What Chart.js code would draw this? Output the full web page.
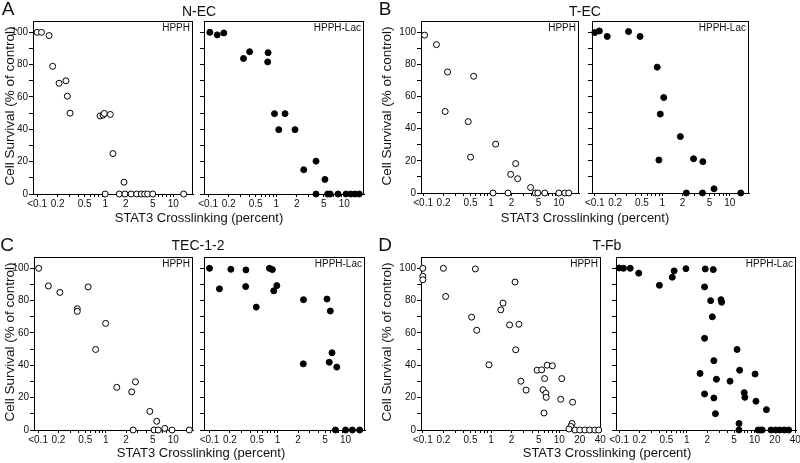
<!DOCTYPE html>
<html>
<head>
<meta charset="utf-8">
<script src="https://cdn.jsdelivr.net/npm/chart.js@4"></script>
<style>
  body { margin: 0; background: #fff; width: 800px; height: 463px; position: relative; overflow: hidden;
         font-family: "Liberation Sans", Arial, sans-serif; color: #111; }
  canvas { position: absolute; }
  .t { position: absolute; white-space: nowrap; transform: translate(-50%, -50%); }
  .letter { font-size: 19px; }
  .title { font-size: 14px; }
  .axis { font-size: 13px; }
  .ylab { font-size: 13.5px; transform: translate(-50%, -50%) rotate(-90deg); }
  .tag { position: absolute; white-space: nowrap; font-size: 10px; transform: translate(-100%, -50%); }
</style>
</head>
<body>
<script>
// --- data (x = STAT3 crosslinking %, y = cell survival %) ---
const necHpphX = [0.1, 0.116, 0.15, 0.169, 0.21, 0.265, 0.278, 0.305, 0.84, 0.93, 0.97, 1.19, 1.3, 1.89,
                  1.0, 1.61, 1.95, 2.4, 2.9, 3.4, 3.8, 4.2, 5.0, 14.2];
const necHpphY = [100, 100, 98, 79, 68.5, 70, 60.5, 50, 48.3, 48.8, 49.8, 49.2, 25, 7.3,
                  0, 0, 0, 0, 0, 0, 0, 0, 0, 0];
const necLacX = [0.106, 0.136, 0.17, 0.331, 0.407, 0.76, 0.75, 0.944, 1.09, 1.35, 1.89, 2.54, 3.85, 5.2,
                 3.85, 5.7, 6.2, 8.1, 10.6, 12.5, 14.5, 16.6];
const necLacY = [100, 98.4, 99.6, 83.8, 88, 87.4, 81.7, 49.7, 39.8, 49.7, 39.8, 15, 20.3, 9,
                 0, 0, 0, 0, 0, 0, 0, 0];

const tecHpphX = [0.105, 0.157, 0.229, 0.555, 0.211, 0.462, 0.5, 1.17, 2.31, 1.95, 2.47, 3.83,
                  1.07, 1.78, 4.5, 4.9, 6.2, 10, 12.2, 14];
const tecHpphY = [98.2, 92.3, 75.3, 72.6, 50.7, 44.4, 22.3, 30.4, 18.3, 11.6, 8.9, 3.4,
                  0, 0, 0, 0, 0, 0, 0, 0];
const tecLacX = [0.1, 0.117, 0.153, 0.316, 0.468, 0.84, 1.05, 0.933, 0.89, 1.85, 2.9, 3.98, 5.83,
                 2.27, 3.93, 14.5];
const tecLacY = [99.8, 100.8, 97.4, 100.4, 97.4, 78.3, 59.4, 49.1, 20.5, 35.1, 21.3, 19.5, 2.6,
                 0, 0, 0];

const tec12HpphX = [0.102, 0.142, 0.21, 0.38, 0.38, 0.55, 1.0, 0.71, 1.46, 2.43, 2.76, 4.5, 5.7, 7.5,
                    2.55, 5.2, 6.0, 9.6, 17.3];
const tec12HpphY = [100, 89.1, 85.1, 75, 73.4, 88.5, 65.9, 49.8, 26.4, 23.6, 29.8, 11.5, 5.4, 1,
                    0, 0, 0, 0, 0];
const tec12LacX = [0.1, 0.14, 0.206, 0.343, 0.34, 0.486, 0.76, 0.84, 0.88, 0.977, 2.41, 2.39, 5.33, 5.96,
                   6.32, 5.76, 7.42, 7.1, 10, 12.6, 16.1];
const tec12LacY = [100, 87.3, 99.4, 99, 88.7, 76, 100, 99.2, 86.1, 89.3, 80.6, 40.9, 81, 73.6,
                   47.8, 41.9, 38.9, 0, 0, 0, 0];

const tfbHpphX = [0.1, 0.1, 0.1, 0.2, 0.216, 0.589, 0.519, 0.617, 0.933, 2.25, 1.5, 1.39, 1.87, 2.57,
                  2.3, 2.74, 3.27, 4.74, 5.53, 6.66, 7.94, 6.1, 10.9, 5.78, 6.38, 6.45, 5.98, 10.5,
                  15.7, 15.4, 14.8, 13.9, 17, 20, 23.8, 27.9, 33.3, 38];
const tfbHpphY = [100, 95.1, 92.9, 100, 82.6, 99.6, 69.8, 61.7, 40.3, 91.5, 78.5, 74.3, 65, 65.4,
                  49.6, 30.2, 24.7, 37, 37.2, 40.1, 39.7, 31.8, 31.8, 24.9, 22.7, 20.2, 10.5, 19,
                  17.2, 4, 2.2, 0.6, 0, 0, 0, 0, 0, 0];
const tfbLacX = [0.1, 0.116, 0.146, 0.195, 0.394, 0.61, 0.65, 0.97, 1.87, 2.46, 1.83, 2.25, 3.2, 3.27,
                 2.38, 1.83, 5.53, 2.51, 6.03, 1.57, 2.74, 4.35, 10.2, 1.83, 2.51, 7.05, 7.2, 10.5,
                 15, 2.65, 5.9, 5.9, 11.3, 12.2, 13, 17.5, 20.5, 23.5, 27.5, 32];
const tfbLacY = [100.2, 100, 100, 97, 89.5, 94.5, 98.4, 99.8, 99.6, 99.2, 88.5, 80, 80.6, 79,
                 70, 56.7, 49.8, 42.9, 37, 35, 31.4, 30.2, 34.6, 22.3, 19.8, 23.1, 20.2, 17.8,
                 12.6, 10.1, 4, 0, 0, 0, 0, 0, 0, 0, 0, 0];

// --- axis ticks ---
const xTicks = [0.1, 0.2, 0.3, 0.4, 0.5, 0.6, 0.7, 0.8, 0.9, 1, 2, 3, 4, 5, 6, 7, 8, 9, 10, 20, 30, 40];
const xLabelVals = [0.1, 0.2, 0.5, 1, 2, 5, 10, 20, 40];
const xLabelText = ['<0.1', '0.2', '0.5', '1', '2', '5', '10', '20', '40'];
const yTicks = [0, 10, 20, 30, 40, 50, 60, 70, 80, 90, 100];
const yLabelVals = [0, 20, 40, 60, 80, 100];

const FONT = '"Liberation Sans", Arial, sans-serif';
const padT = 4, padR = 10, padB = 24;

// box = [left, top, right, bottom(y=0)] of each frame
const panels = [
  { x: necHpphX, y: necHpphY, fill: false, tag: 'HPPH', box: [33, 18, 193, 194], xmin: 0.087, xmax: 19.5 },
  { x: necLacX, y: necLacY, fill: true, tag: 'HPPH-Lac', box: [204, 18, 364, 194], xmin: 0.087, xmax: 19.5 },
  { x: tecHpphX, y: tecHpphY, fill: false, tag: 'HPPH', box: [421, 18, 579, 193], xmin: 0.093, xmax: 19.8 },
  { x: tecLacX, y: tecLacY, fill: true, tag: 'HPPH-Lac', box: [592, 18, 749, 193], xmin: 0.091, xmax: 19.2 },
  { x: tec12HpphX, y: tec12HpphY, fill: false, tag: 'HPPH', box: [34, 254, 193, 430], xmin: 0.087, xmax: 19.6 },
  { x: tec12LacX, y: tec12LacY, fill: true, tag: 'HPPH-Lac', box: [204, 254, 365, 430], xmin: 0.083, xmax: 19.3 },
  { x: tfbHpphX, y: tfbHpphY, fill: false, tag: 'HPPH', box: [421, 254, 601, 430], xmin: 0.094, xmax: 41 },
  { x: tfbLacX, y: tfbLacY, fill: true, tag: 'HPPH-Lac', box: [616, 254, 796, 430], xmin: 0.09, xmax: 41 }
];

// box around the plot area, drawn before the points
const frame = {
  id: 'frame',
  beforeDatasetsDraw(c) {
    const a = c.chartArea, g = c.ctx;
    g.save();
    g.strokeStyle = '#000';
    g.lineWidth = 1;
    g.strokeRect(Math.round(a.left) + 0.5, Math.round(a.top) + 0.5, Math.round(a.width) - 1, Math.round(a.height));
    g.restore();
  }
};

function addText(cls, txt, x, y) {
  const d = document.createElement('div');
  d.className = cls;
  d.textContent = txt;
  d.style.left = x + 'px';
  d.style.top = y + 'px';
  document.body.appendChild(d);
}

panels.forEach(p => {
  const [l, t, r, b] = p.box;
  const labelled = p.tag === 'HPPH';
  const padL = labelled ? 34 : 12;
  const cv = document.createElement('canvas');
  cv.width = r - l + padL + padR;
  cv.height = b - t + padT + padB;
  cv.style.left = (l - padL) + 'px';
  cv.style.top = (t - padT) + 'px';
  document.body.appendChild(cv);

  new Chart(cv, {
    type: 'scatter',
    data: {
      datasets: [{
        data: p.x.map((v, i) => ({ x: v, y: p.y[i] })),
        pointRadius: 3,
        pointHoverRadius: 3,
        pointBorderWidth: 1,
        pointBorderColor: '#000',
        pointBackgroundColor: p.fill ? '#000' : '#fff',
        clip: false
      }]
    },
    options: {
      responsive: false,
      animation: false,
      events: [],
      layout: { padding: { left: 0, top: padT, right: padR, bottom: 0 } },
      plugins: { legend: { display: false }, tooltip: { enabled: false } },
      scales: {
        x: {
          type: 'logarithmic',
          min: p.xmin,
          max: p.xmax,
          afterBuildTicks: s => { s.ticks = xTicks.filter(v => v >= s.min && v <= s.max).map(v => ({ value: v })); },
          afterFit: s => { s.height = padB; },
          grid: { drawOnChartArea: false, drawTicks: true, tickLength: 3, color: '#000' },
          border: { display: true, color: '#000' },
          ticks: {
            autoSkip: false, maxRotation: 0, padding: 1, color: '#111',
            font: { size: 10, family: FONT },
            callback: v => { const k = xLabelVals.indexOf(v); return k < 0 ? '' : xLabelText[k]; }
          }
        },
        y: {
          min: 0,
          max: 107,
          afterBuildTicks: s => { s.ticks = yTicks.map(v => ({ value: v })); },
          afterFit: s => { s.width = padL; },
          grid: { drawOnChartArea: false, drawTicks: true, tickLength: 4, color: '#000' },
          border: { display: true, color: '#000' },
          ticks: {
            padding: 1, color: '#111',
            font: { size: 10, family: FONT },
            callback: v => (labelled && yLabelVals.includes(v)) ? String(v) : ''
          }
        }
      }
    },
    plugins: [frame]
  });

  addText('tag', p.tag, r - 3, t + 9);
});

// panel letters, titles and axis titles
addText('t letter', 'A', 8, 9);
addText('t letter', 'B', 385, 9);
addText('t letter', 'C', 7, 245);
addText('t letter', 'D', 385, 245);
addText('t title', 'N-EC', 199, 11);
addText('t title', 'T-EC', 585, 11);
addText('t title', 'TEC-1-2', 198, 245);
addText('t title', 'T-Fb', 607, 245);
addText('t axis', 'STAT3 Crosslinking (percent)', 199, 217);
addText('t axis', 'STAT3 Crosslinking (percent)', 585, 217);
addText('t axis', 'STAT3 Crosslinking (percent)', 201, 452);
addText('t axis', 'STAT3 Crosslinking (percent)', 607, 452);
addText('t ylab', 'Cell Survival (% of control)', 9, 106);
addText('t ylab', 'Cell Survival (% of control)', 386, 106);
addText('t ylab', 'Cell Survival (% of control)', 9, 342);
addText('t ylab', 'Cell Survival (% of control)', 386, 342);
</script>
</body>
</html>
